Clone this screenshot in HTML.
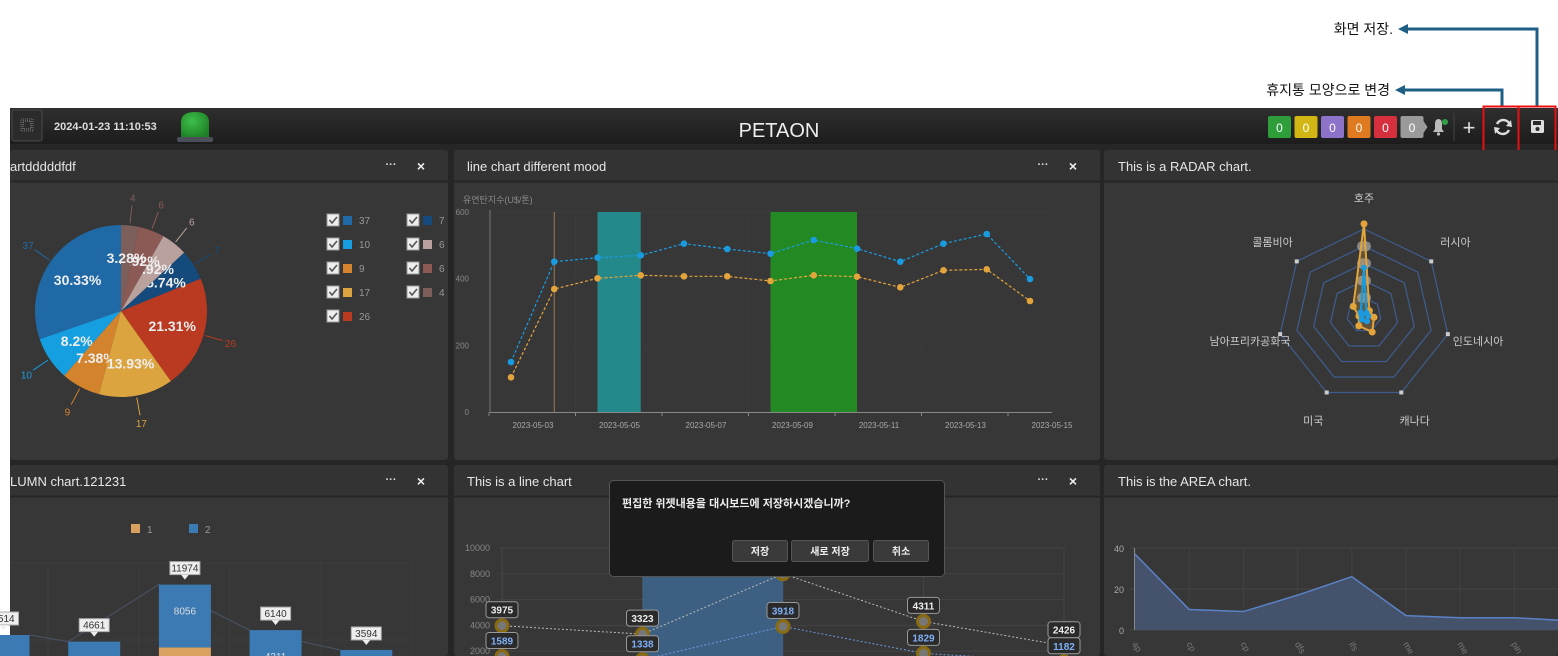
<!DOCTYPE html>
<html><head><meta charset="utf-8">
<style>
html,body{margin:0;padding:0;background:#fff;width:1558px;height:656px;overflow:hidden;font-family:"Liberation Sans","Noto Sans CJK KR",sans-serif}
svg{position:absolute;left:0;top:0}
text{font-family:"Liberation Sans","Noto Sans CJK KR",sans-serif}
</style></head>
<body>
<svg id="s" width="1558" height="656" xmlns="http://www.w3.org/2000/svg">
<defs>
<linearGradient id="hdr" x1="0" y1="0" x2="0" y2="1"><stop offset="0" stop-color="#2f2f2f"/><stop offset="1" stop-color="#1c1c1c"/></linearGradient>
<radialGradient id="lamp" cx="0.4" cy="0.35" r="0.7"><stop offset="0" stop-color="#3fbf4a"/><stop offset="1" stop-color="#1d7f25"/></radialGradient>
</defs>
<g>
<text x="1393" y="34" font-size="14" fill="#111" text-anchor="end">화면  저장.</text>
<polyline points="1407,29 1537,29 1537,107" fill="none" stroke="#1f5f86" stroke-width="3"/>
<polygon points="1398,29 1408,24 1408,34" fill="#1f5f86"/>
<text x="1390" y="95" font-size="14" fill="#111" text-anchor="end">휴지통 모양으로 변경</text>
<polyline points="1404,90 1502,90 1502,107" fill="none" stroke="#1f5f86" stroke-width="3"/>
<polygon points="1395,90 1405,85 1405,95" fill="#1f5f86"/>
</g>
<rect x="10" y="108" width="1548" height="548" fill="#262626"/>
<g>
<rect x="10" y="108" width="1548" height="36" fill="url(#hdr)"/>
<rect x="12" y="110" width="30" height="31" rx="2" fill="#2b2b2b" stroke="#4a4a4a"/>
<g fill="#888">
<rect x="21" y="119" width="12" height="12" fill="none" stroke="#777" stroke-dasharray="1,1"/>
<rect x="23" y="121" width="8" height="8" fill="none" stroke="#999" stroke-dasharray="1,1"/>
</g>
<text x="54" y="130" font-size="11" font-weight="bold" fill="#ddd">2024-01-23 11:10:53</text>
<g>
<path d="M181,138 L181,122 Q181,112 195,112 Q209,112 209,122 L209,138 Z" fill="url(#lamp)"/>
<rect x="177" y="137" width="36" height="5" rx="2" fill="#4a4f5a"/>
</g>
<text x="779" y="137" font-size="20" fill="#eee" text-anchor="middle">PETAON</text>
<g id="badges"></g>
<g>
<path d="M1433,132 L1444,132 L1442,129 L1442,124 Q1442,119 1438.5,119 Q1435,119 1435,124 L1435,129 Z" fill="#bbb"/>
<circle cx="1438.5" cy="134" r="1.6" fill="#bbb"/>
<circle cx="1445" cy="122" r="3" fill="#2ea043"/>
</g>
<line x1="1454" y1="113" x2="1454" y2="141" stroke="#444"/>
<text x="1469" y="135" font-size="22" fill="#ddd" text-anchor="middle">+</text>
<g>
<path d="M1497,124 A7,7 0 0 1 1510,125" fill="none" stroke="#ddd" stroke-width="2.5"/>
<path d="M1509,130 A7,7 0 0 1 1496,129" fill="none" stroke="#ddd" stroke-width="2.5"/>
<polygon points="1511,120 1512,127 1506,126" fill="#ddd"/>
<polygon points="1495,134 1494,127 1500,128" fill="#ddd"/>
</g>
<g>
<rect x="1531" y="120" width="13" height="13" rx="1.5" fill="#ddd"/>
<rect x="1533" y="121" width="8" height="4" fill="#2a2a2a"/>
<circle cx="1537.5" cy="129" r="2" fill="#2a2a2a"/>
</g>
</g>
<rect x="1483.5" y="106.5" width="35" height="50" fill="none" stroke="#e81010" stroke-width="2"/>
<rect x="1518.5" y="106.5" width="37" height="50" fill="none" stroke="#e81010" stroke-width="2"/>

<g id="panels"></g>
<g id="pie"></g>
<g id="line1"></g>
<g id="radar"></g>
<g id="col"></g>
<g id="line2"></g>
<g id="area"></g>

<g>
<rect x="609.5" y="480.5" width="335" height="96" rx="4" fill="#1b1b1b" stroke="#555"/>
<text x="622" y="507" font-size="11" font-weight="bold" fill="#eee">편집한 위젯내용을 대시보드에 저장하시겠습니까?</text>
<rect x="732.5" y="540.5" width="55" height="21" rx="2" fill="#3a3a3a" stroke="#555"/>
<text x="760" y="555" font-size="10" font-weight="bold" fill="#eee" text-anchor="middle">저장</text>
<rect x="791.5" y="540.5" width="77" height="21" rx="2" fill="#3a3a3a" stroke="#555"/>
<text x="830" y="555" font-size="10" font-weight="bold" fill="#eee" text-anchor="middle">새로 저장</text>
<rect x="873.5" y="540.5" width="55" height="21" rx="2" fill="#3a3a3a" stroke="#555"/>
<text x="901" y="555" font-size="10" font-weight="bold" fill="#eee" text-anchor="middle">취소</text>
</g>
</svg>
<script>
const NS='http://www.w3.org/2000/svg';
function mk(parent,tag,attrs,txt){const e=document.createElementNS(NS,tag);for(const k in attrs)e.setAttribute(k,attrs[k]);if(txt!==undefined)e.textContent=txt;parent.appendChild(e);return e;}

const badgeColors=['#2e9e3a','#d2b614','#8c72c8','#e07a20','#d6303f','#9a9a9a'];
const badgeValues=[0,0,0,0,0,0];
const bg=document.getElementById('badges');
badgeValues.forEach((v,i)=>{const x=1268+i*26.5;
 const r=mk(bg,'rect',{x:x,y:116,width:23,height:22,rx:2,fill:badgeColors[i]});
 
 
 if(i===5)mk(bg,'polygon',{points:`${x+23},121 ${x+27},127 ${x+23},133`,fill:badgeColors[i]});
 mk(bg,'text',{x:x+11.5,y:132,'font-size':12,fill:'#fff','text-anchor':'middle'},v);
});

const panels=[
 {x:10,y:150,w:438,h:310,t:'artdddddfdf',ctl:true,tx:10},
 {x:454,y:150,w:646,h:310,t:'line chart different mood',ctl:true,tx:467},
 {x:1104,y:150,w:454,h:310,t:'This is a RADAR chart.',ctl:false,tx:1118},
 {x:10,y:465,w:438,h:191,t:'LUMN chart.121231',ctl:true,tx:10},
 {x:454,y:465,w:646,h:191,t:'This is a line chart',ctl:true,tx:467},
 {x:1104,y:465,w:454,h:191,t:'This is the AREA chart.',ctl:false,tx:1118}];
const pg=document.getElementById('panels');
panels.forEach(p=>{
 const g=mk(pg,'g',{});
 
 
 mk(g,'rect',{x:p.x,y:p.y,width:p.w,height:p.h,rx:3,fill:'#373737'});
 mk(g,'rect',{x:p.x,y:p.y,width:p.w,height:31,rx:3,fill:'#333'});
 mk(g,'line',{x1:p.x,y1:p.y+31.5,x2:p.x+p.w,y2:p.y+31.5,stroke:'#262626','stroke-width':2});
 const t=mk(g,'text',{x:p.tx,y:p.y+21,'font-size':13,fill:'#e6e6e6'},p.t);
 
 
 if(p.ctl){
  const m=mk(g,'text',{x:p.x+p.w-57,y:p.y+18,'font-size':11,'font-weight':'bold',fill:'#ddd','text-anchor':'middle'},'···');
  
  
  const c=mk(g,'text',{x:p.x+p.w-27,y:p.y+21,'font-size':14,'font-weight':'bold',fill:'#eee','text-anchor':'middle'},'×');
  
  
 }
});

const pieValues=[37,10,9,17,26,7,6,6,4];
const pieColors=['#1f69a6','#169fe0','#d2832b','#dca43f','#b93a20','#154b7c','#b9a19d','#8c5a55','#7c5e5a'];
(function(){
 const g=document.getElementById('pie');const cx=121,cy=311,r=86;
 const tot=pieValues.reduce((a,b)=>a+b,0);
 let a=0;
 pieValues.forEach((v,i)=>{
  const a0=a,a1=a+v/tot*2*Math.PI;a=a1;
  const p=t=>[cx-Math.sin(t)*r,cy-Math.cos(t)*r];
  const [x0,y0]=p(a0),[x1,y1]=p(a1);
  const s=mk(g,'path',{d:`M${cx},${cy} L${x0},${y0} A${r},${r} 0 ${a1-a0>Math.PI?1:0} 0 ${x1},${y1} Z`,fill:pieColors[i]});
  
  
  const m=(a0+a1)/2;
  const lx=cx-Math.sin(m)*r*0.62, ly=cy-Math.cos(m)*r*0.62;
  mk(g,'text',{x:lx,y:ly+5,'font-size':14,'font-weight':'bold',fill:'#eee','text-anchor':'middle'},(Math.round(v/tot*10000)/100)+'%');
  const ex=cx-Math.sin(m)*(r+2),ey=cy-Math.cos(m)*(r+2),ox=cx-Math.sin(m)*(r+20),oy=cy-Math.cos(m)*(r+20);
  mk(g,'line',{x1:ex,y1:ey,x2:ox,y2:oy,stroke:pieColors[i]});
  const tx=cx-Math.sin(m)*(r+28),ty=cy-Math.cos(m)*(r+28);
  mk(g,'text',{x:tx,y:ty+4,'font-size':10,fill:pieColors[i],'text-anchor':'middle'},v);
 });
 pieValues.forEach((v,i)=>{
  const col=i<5?0:1,row=i<5?i:i-5;const x=327+col*80,y=214+row*24;
  const lg=mk(g,'g',{});
  
  
  mk(lg,'rect',{x:x,y:y,width:12,height:12,fill:'#eee',stroke:'#999'});
  mk(lg,'path',{d:`M${x+2.5},${y+6} L${x+5},${y+9} L${x+10},${y+3}`,fill:'none',stroke:'#555','stroke-width':1.6});
  mk(lg,'rect',{x:x+16,y:y+2,width:9,height:9,fill:pieColors[i]});
  mk(lg,'text',{x:x+32,y:y+10,'font-size':10,fill:'#999'},v);
 });
})();

const l1Dates=['2023-05-03','2023-05-05','2023-05-07','2023-05-09','2023-05-11','2023-05-13','2023-05-15'];
const l1Blue=[150,451,463,470,505,489,475,516,490,451,505,534,399];
const l1Orange=[104,369,401,410,407,407,393,410,406,374,425,428,333];
const l1Ticks=[0,200,400,600];
(function(){
 const g=document.getElementById('line1');
 const x=i=>511+i*43.25, y=v=>412-v*200/600;
 mk(g,'text',{x:463,y:203,'font-size':9,fill:'#888'},'유연탄지수(U$/톤)');
 l1Ticks.forEach(t=>{mk(g,'line',{x1:490,y1:y(t),x2:1052,y2:y(t),stroke:'#3b3b3b'});
  mk(g,'text',{x:469,y:y(t)+3,'font-size':8,fill:'#888','text-anchor':'end'},t);});
 for(let k=0;k<=6;k++){const xx=489+k*86.5;mk(g,'line',{x1:xx,y1:210,x2:xx,y2:412,stroke:'#3a3a3a'});mk(g,'line',{x1:xx,y1:412,x2:xx,y2:416,stroke:'#888'});}
 const b1=mk(g,'rect',{x:x(2),y:y(600),width:x(3)-x(2),height:y(0)-y(600),fill:'#23898a'});
 
 
 const b2=mk(g,'rect',{x:x(6),y:y(600),width:x(8)-x(6),height:y(0)-y(600),fill:'#238a23'});
 
 
 mk(g,'line',{x1:x(1),y1:y(600),x2:x(1),y2:y(0),stroke:'#a07a50'});
 mk(g,'line',{x1:490,y1:210,x2:490,y2:412,stroke:'#777'});
 mk(g,'line',{x1:490,y1:412.5,x2:1052,y2:412.5,stroke:'#888'});
 l1Dates.forEach((d,i)=>mk(g,'text',{x:533+i*86.5,y:428,'font-size':8,fill:'#aaa','text-anchor':'middle'},d));
 [[l1Blue,'#1a9be0','series-blue'],[l1Orange,'#e3a43c','series-orange']].forEach(([arr,c,n])=>{
  const pl=mk(g,'polyline',{points:arr.map((v,i)=>x(i)+','+y(v)).join(' '),fill:'none',stroke:c,'stroke-dasharray':'3,2','stroke-width':1.2});
  
  
  arr.forEach((v,i)=>{const p=mk(g,'circle',{cx:x(i),cy:y(v),r:3.3,fill:c});
   
   });
 });
})();

const radarAxes=['호주','러시아','인도네시아','캐나다','미국','남아프리카공화국','콜롬비아'];
const radarOrange=[106,8,12,22,14,6,16];
const radarBlue=[55,4,5,8,6,3,5];
(function(){
 const g=document.getElementById('radar');const cx=1364,cy=315,R=86,max=100;
 const pt=(i,v)=>{const a=i*2*Math.PI/7;return[cx+Math.sin(a)*R*v/max,cy-Math.cos(a)*R*v/max];};
 for(let k=1;k<=5;k++){mk(g,'polygon',{points:radarAxes.map((_,i)=>pt(i,k*20).join(',')).join(' '),fill:'none',stroke:'#3e5d8f','stroke-width':1.2});}
 radarAxes.forEach((n,i)=>{const [px,py]=pt(i,100);if(i>0)mk(g,'rect',{x:px-2,y:py-2,width:4,height:4,fill:'#ccc'});
  const [lx,ly]=pt(i,136);const t=mk(g,'text',{x:lx,y:ly+4,'font-size':11,fill:'#ccc','text-anchor':'middle'},n);
  
  });
 [20,40,60,80].forEach(v=>{const[px,py]=pt(0,v);mk(g,'rect',{x:px-7,y:py-5,width:14,height:10,rx:5,fill:'#aaa','fill-opacity':0.7});mk(g,'text',{x:px,y:py+3,'font-size':8,fill:'#888','text-anchor':'middle'},v);});
 [[radarOrange,'#e3a43c',3.5],[radarBlue,'#1a9be0',3]].forEach(([arr,c,rr])=>{
  const p=mk(g,'polygon',{points:arr.map((v,i)=>pt(i,v).join(',')).join(' '),fill:c,'fill-opacity':0.25,stroke:c,'stroke-width':2});
  
  
  arr.forEach((v,i)=>{const[px,py]=pt(i,v);mk(g,'circle',{cx:px,cy:py,r:rr,fill:c});});
 });
})();

const colTotals=[5514,4661,11974,6140,3594];
const colBlue=[4005,3323,8056,4311,2426];
(function(){
 const g=document.getElementById('col');
 const k=0.0078, y=v=>678-v*k, cx=i=>3.5+i*90.7, bw=52;
 const l1=mk(g,'g',{});
 mk(l1,'rect',{x:131,y:524,width:9,height:9,fill:'#d9a060'});mk(l1,'text',{x:147,y:533,'font-size':10,fill:'#999'},'1');
 const l2=mk(g,'g',{});
 mk(l2,'rect',{x:189,y:524,width:9,height:9,fill:'#3c7ab4'});mk(l2,'text',{x:205,y:533,'font-size':10,fill:'#999'},'2');
 [563,640].forEach(yy=>mk(g,'line',{x1:10,y1:yy,x2:412,y2:yy,stroke:'#3c3c3c'}));
 for(let i=0;i<6;i++)mk(g,'line',{x1:48+i*91,y1:563,x2:48+i*91,y2:656,stroke:'#3c3c3c'});
 mk(g,'polyline',{points:colTotals.map((v,i)=>(cx(i)+(i?-bw/2:bw/2))+','+y(v)).join(' '),fill:'none',stroke:'#4a5566'});
 colTotals.forEach((t,i)=>{
  const x=cx(i)-bw/2;
  const o=mk(g,'rect',{x:x,y:y(t-colBlue[i]),width:bw,height:(t-colBlue[i])*k,fill:'#d9a060'});
  
  const b=mk(g,'rect',{x:x,y:y(t),width:bw,height:colBlue[i]*k,fill:'#3c7ab4'});
  
  mk(g,'text',{x:cx(i),y:y(t)+30,'font-size':10,fill:'#ddd','text-anchor':'middle'},colBlue[i]);
  const ly=y(t)-10;
  mk(g,'rect',{x:cx(i)-15,y:ly-13,width:30,height:13,fill:'#eee',stroke:'#aaa'});
  mk(g,'polygon',{points:`${cx(i)-4},${ly} ${cx(i)+4},${ly} ${cx(i)},${ly+5}`,fill:'#eee'});
  mk(g,'text',{x:cx(i),y:ly-3,'font-size':10,fill:'#333','text-anchor':'middle'},t);
 });
})();

const l2Gray=[3975,3323,8000,4311,2426];
const l2Blue=[1589,1338,3918,1829,1182];
const l2Ticks=[2000,4000,6000,8000,10000];
(function(){
 const g=document.getElementById('line2');
 const x=i=>502+i*140.5, y=v=>677-v*0.0129;
 l2Ticks.forEach(t=>{mk(g,'line',{x1:499,y1:y(t),x2:1063,y2:y(t),stroke:'#444'});
  mk(g,'text',{x:490,y:y(t)+3,'font-size':9,fill:'#888','text-anchor':'end'},t);});
 for(let i=0;i<5;i++)mk(g,'line',{x1:x(i),y1:y(10000),x2:x(i),y2:656,stroke:'#444'});
 const band=mk(g,'rect',{x:x(1),y:y(10000),width:x(2)-x(1),height:656-y(10000),fill:'#3f6a95','fill-opacity':0.8});
 
 
 [[l2Gray,'#bbb','#eee'],[l2Blue,'#6a9ae0','#7fb0f5']].forEach(([arr,c,tc])=>{
  const pl=mk(g,'polyline',{points:arr.map((v,i)=>x(i)+','+y(v)).join(' '),fill:'none',stroke:c,'stroke-dasharray':'2,2'});
  
  
  arr.forEach((v,i)=>{
   mk(g,'circle',{cx:x(i),cy:y(v),r:6,fill:'#777',stroke:'#8a6a10','stroke-width':3});
   const ly=y(v)-8;
   mk(g,'rect',{x:x(i)-16,y:ly-16,width:32,height:16,rx:3,fill:'#2a2a2a',stroke:'#999'});
   mk(g,'text',{x:x(i),y:ly-4,'font-size':10,'font-weight':'bold',fill:tc,'text-anchor':'middle'},v);
  });
 });
})();

const areaCats=['ap','cp','cp','dfs','ifs','me','me','pin','pr'];
const areaValues=[37,10,9,17,26,7,6,6,4.5];
const areaTicks=[0,20,40];
(function(){
 const g=document.getElementById('area');
 const x=i=>1135+i*54.2, y=v=>630-v*2.05;
 areaTicks.forEach(t=>{mk(g,'line',{x1:1130,y1:y(t),x2:1558,y2:y(t),stroke:'#444'});
  mk(g,'text',{x:1124,y:y(t)+4,'font-size':9,fill:'#aaa','text-anchor':'end'},t);});
 areaCats.forEach((c,i)=>{mk(g,'line',{x1:x(i),y1:y(40),x2:x(i),y2:y(0),stroke:'#424242'});
  mk(g,'text',{x:x(i)-3,y:y(0)+14,'font-size':9,fill:'#777',transform:`rotate(60 ${x(i)-3} ${y(0)+14})`},c);});
 const pts=areaValues.map((v,i)=>x(i)+','+y(v)).join(' ');
 const a=mk(g,'polygon',{points:`${x(0)},${y(0)} ${pts} ${x(areaValues.length-1)},${y(0)}`,fill:'#45526b'});
 
 
 const l=mk(g,'polyline',{points:pts,fill:'none',stroke:'#5b82c6','stroke-width':1.5});
 
 
 mk(g,'line',{x1:1134.5,y1:y(40),x2:1134.5,y2:y(0),stroke:'#888'});
})();
</script>
</body></html>
